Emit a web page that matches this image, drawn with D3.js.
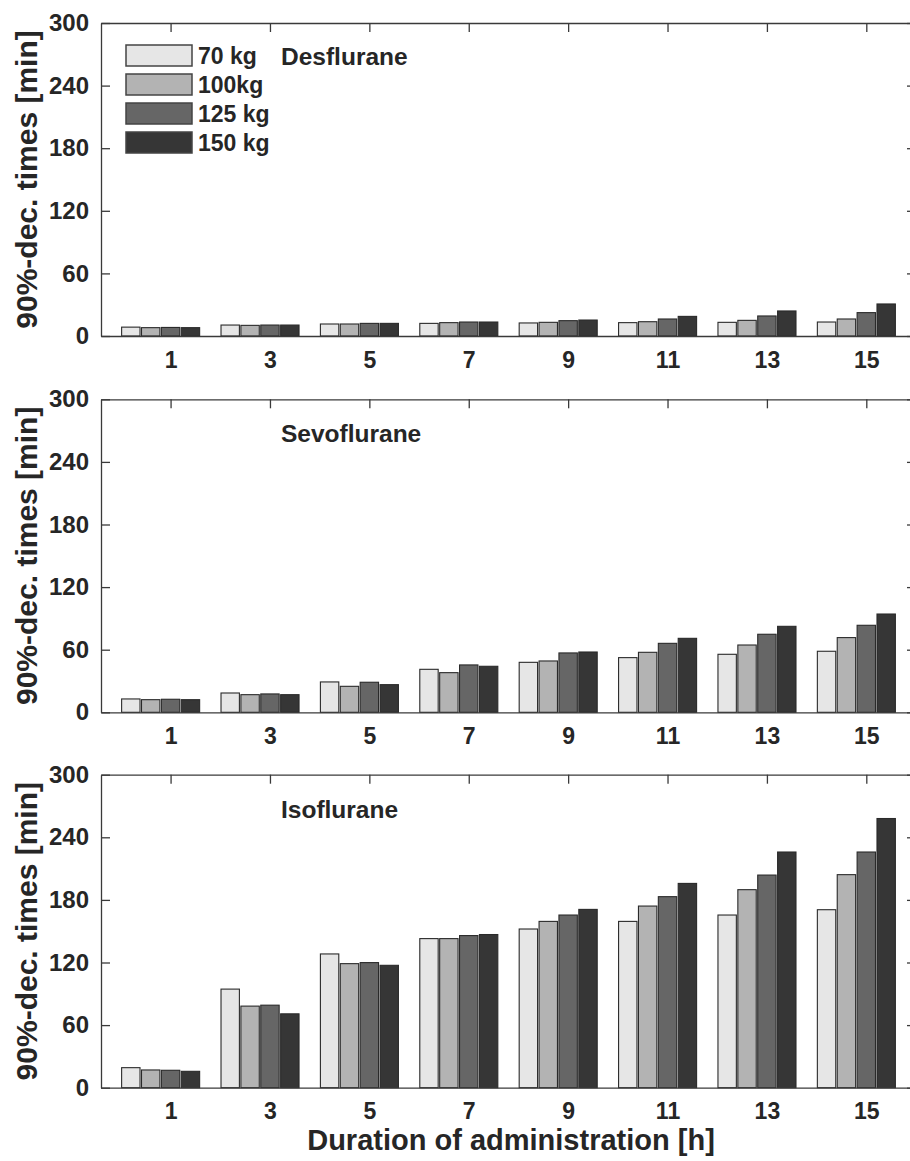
<!DOCTYPE html>
<html>
<head>
<meta charset="utf-8">
<script src="https://cdn.jsdelivr.net/npm/d3@7"></script>
<style>
  body { margin: 0; background: #fff; }
  text { font-family: "Liberation Sans", Arial, sans-serif; font-weight: bold; fill: #262626; }
</style>
</head>
<body>
<script>
var durations = [1, 3, 5, 7, 9, 11, 13, 15];
var weights = ["70 kg", "100kg", "125 kg", "150 kg"];
var colors = ["#e6e6e6", "#b3b3b3", "#666666", "#363636"];
var yTicks = [0, 60, 120, 180, 240, 300];

// rows: duration, columns: 70, 100, 125, 150 kg
var desflurane = [
  [8.5, 8.0, 8.2, 8.0],
  [10.5, 10.2, 10.5, 10.5],
  [11.5, 11.5, 12.1, 12.1],
  [12.1, 12.8, 13.4, 13.4],
  [12.5, 13.1, 14.7, 15.3],
  [12.8, 13.7, 16.3, 18.8],
  [13.1, 15.0, 19.2, 24.0],
  [13.4, 16.3, 22.4, 30.7]
];
var sevoflurane = [
  [12.8, 12.1, 12.5, 12.1],
  [18.5, 16.9, 17.6, 16.9],
  [29.1, 24.9, 28.8, 26.5],
  [41.2, 38.0, 45.4, 44.1],
  [47.9, 49.2, 56.9, 57.8],
  [52.4, 57.5, 66.1, 70.9],
  [55.6, 64.5, 74.8, 82.4],
  [58.5, 71.6, 83.4, 94.2]
];
var isoflurane = [
  [19.2, 17.0, 16.7, 15.7],
  [94.5, 78.2, 79.1, 70.8],
  [128.2, 118.9, 119.9, 117.3],
  [142.9, 142.9, 145.8, 146.8],
  [152.1, 159.4, 165.5, 170.9],
  [159.4, 174.1, 183.1, 195.8],
  [165.5, 189.8, 203.8, 225.9],
  [170.6, 204.2, 225.9, 258.0]
];

var panels = [
  { name: "Desflurane", data: desflurane, top: 23, legend: true },
  { name: "Sevoflurane", data: sevoflurane, top: 399.3 },
  { name: "Isoflurane", data: isoflurane, top: 774.7 }
];

var W = 910, H = 1161, left = 101, ph = 313;

var svg = d3.select("body").append("svg")
    .attr("width", W)
    .attr("height", H);

var x = d3.scaleLinear().domain([-0.4, 16]).range([left, 916]);
// offset of each weight's bar inside a group, in duration units
var sub = d3.scaleBand().domain(weights).range([-0.985, 0.585]).paddingInner(0.075);
var color = d3.scaleOrdinal().domain(weights).range(colors);

panels.forEach(function(p) {
  var y = d3.scaleLinear().domain([0, 300]).range([p.top + ph, p.top]);
  var g = svg.append("g");

  // bars
  var grp = g.selectAll(".grp")
    .data(p.data)
    .enter().append("g");
  grp.selectAll("rect")
    .data(function(row, i) { return row.map(function(v, j) { return { t: durations[i], w: weights[j], v: v }; }); })
    .enter().append("rect")
      .attr("x", function(d) { return x(d.t + sub(d.w)); })
      .attr("width", function(d) { return x(sub.bandwidth()) - x(0); })
      .attr("y", function(d) { return y(d.v); })
      .attr("height", function(d) { return y(0) - y(d.v); })
      .attr("fill", function(d) { return color(d.w); })
      .attr("stroke", "#2a2a2a")
      .attr("stroke-width", 1.1);

  // axes (ticks inward)
  var axL = g.append("g").attr("transform", "translate(" + left + ",0)")
    .call(d3.axisLeft(y).tickValues(yTicks).tickSizeInner(-9).tickSizeOuter(0).tickPadding(12));
  var axR = g.append("g").attr("transform", "translate(916,0)")
    .call(d3.axisRight(y).tickValues(yTicks).tickSizeInner(-9).tickSizeOuter(0).tickFormat(""));
  var axB = g.append("g").attr("transform", "translate(0," + (p.top + ph) + ")")
    .call(d3.axisBottom(x).tickValues(durations).tickSizeInner(-9).tickSizeOuter(0).tickPadding(15));
  var axT = g.append("g").attr("transform", "translate(0," + p.top + ")")
    .call(d3.axisTop(x).tickValues(durations).tickSizeInner(-9).tickSizeOuter(0).tickFormat(""));
  [axL, axR, axB, axT].forEach(function(a) {
    a.select(".domain").attr("stroke", "#3a3a3a").attr("stroke-width", 1.3);
    a.selectAll(".tick line").attr("stroke", "#3a3a3a").attr("stroke-width", 1.3);
    a.selectAll(".tick text").attr("font-size", 24).attr("fill", "#262626")
      .attr("font-family", "Liberation Sans, Arial, sans-serif").attr("font-weight", "bold");
  });
  axB.selectAll(".tick line").remove();
  axB.selectAll(".tick text").attr("font-size", 23).attr("dy", "0.72em");
  axB.raise();

  // y label
  g.append("text")
    .attr("transform", "translate(37," + (p.top + ph / 2) + ") rotate(-90)")
    .attr("text-anchor", "middle")
    .attr("font-size", 30)
    .text("90%-dec. times [min]");

  // drug name
  g.append("text")
    .attr("x", 281)
    .attr("y", p.top + (p.legend ? 42 : 43))
    .attr("font-size", 24.5)
    .text(p.name);

  if (p.legend) {
    var lg = g.append("g").attr("transform", "translate(126," + (p.top + 22) + ")");
    var item = lg.selectAll(".item")
      .data(weights)
      .enter().append("g")
        .attr("transform", function(d, i) { return "translate(0," + (i * 29) + ")"; });
    item.append("rect")
      .attr("width", 66).attr("height", 21)
      .attr("fill", function(d) { return color(d); })
      .attr("stroke", "#444").attr("stroke-width", 1.5);
    item.append("text")
      .attr("x", 72).attr("y", 19)
      .attr("font-size", 23)
      .text(function(d) { return d; });
  }
});

svg.append("text")
  .attr("x", 511)
  .attr("y", 1150)
  .attr("text-anchor", "middle")
  .attr("font-size", 29)
  .text("Duration of administration [h]");
</script>
</body>
</html>
